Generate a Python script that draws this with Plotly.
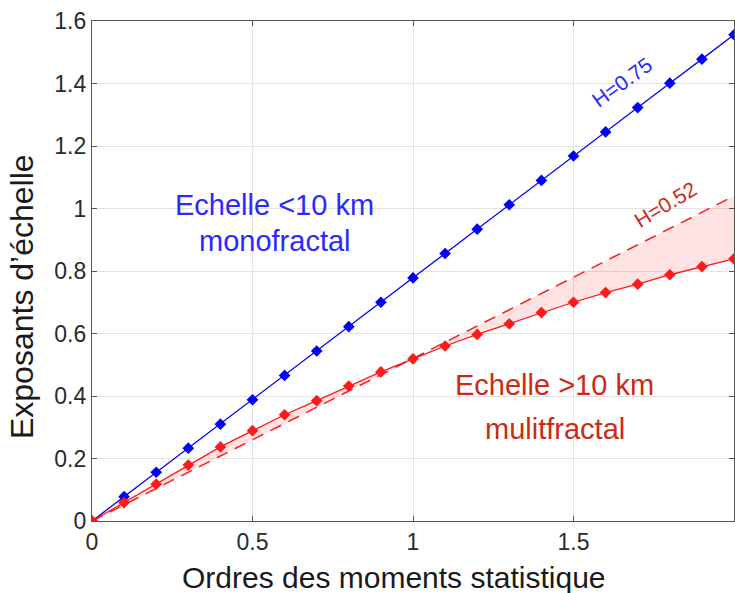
import plotly.graph_objects as go

# Moment orders
q = [0.0, 0.1, 0.2, 0.3, 0.4, 0.5, 0.6, 0.7, 0.8, 0.9, 1.0,
     1.1, 1.2, 1.3, 1.4, 1.5, 1.6, 1.7, 1.8, 1.9, 2.0]

# Scaling exponents, scales below 10 km (monofractal)
zeta_small = [0.0, 0.078, 0.156, 0.233, 0.310, 0.388, 0.466, 0.544, 0.622, 0.700, 0.778,
              0.856, 0.934, 1.012, 1.090, 1.168, 1.245, 1.323, 1.401, 1.478, 1.556]

# Scaling exponents, scales above 10 km (multifractal)
zeta_large = [0.0, 0.059, 0.118, 0.179, 0.237, 0.289, 0.340, 0.385, 0.432, 0.477, 0.519,
              0.560, 0.597, 0.631, 0.667, 0.700, 0.731, 0.758, 0.788, 0.814, 0.839]

# Monofractal reference slope for the large scales
H_ref = 0.52
ref_q = [0.0, 2.0]
ref_zeta = [H_ref * v for v in ref_q]

x_ticks = [0, 0.5, 1, 1.5, 2]
x_ticktext = ["0", "0.5", "1", "1.5", "2"]
y_ticks = [0, 0.2, 0.4, 0.6, 0.8, 1.0, 1.2, 1.4, 1.6]
y_ticktext = ["0", "0.2", "0.4", "0.6", "0.8", "1", "1.2", "1.4", "1.6"]

BLUE = "#0000ff"
RED = "#ff1a1a"

fig = go.Figure()

# Shaded gap between the multifractal curve and the linear reference
fig.add_trace(go.Scatter(
    x=q + ref_q[::-1], y=zeta_large + ref_zeta[::-1],
    fill="toself", fillcolor="rgba(255,60,60,0.15)",
    line=dict(width=0), mode="lines", hoverinfo="skip", showlegend=False))

fig.add_trace(go.Scatter(
    x=ref_q, y=ref_zeta, mode="lines",
    line=dict(color=RED, width=1.5, dash="12px,8px"), showlegend=False))

fig.add_trace(go.Scatter(
    x=q, y=zeta_small, mode="lines+markers",
    line=dict(color=BLUE, width=1.3),
    marker=dict(symbol="diamond", size=9, color=BLUE), showlegend=False))

fig.add_trace(go.Scatter(
    x=q, y=zeta_large, mode="lines+markers",
    line=dict(color=RED, width=1.3),
    marker=dict(symbol="diamond", size=9, color=RED), showlegend=False))

font_fam = "Liberation Sans, Arial, sans-serif"
ann_blue = "#2a2aff"
ann_red = "#cc2a14"

annotations = [
    dict(x=0.57, y=1.011, text="Echelle &lt;10 km", font=dict(size=29, color=ann_blue)),
    dict(x=0.57, y=0.895, text="monofractal", font=dict(size=29, color=ann_blue)),
    dict(x=1.442, y=0.435, text="Echelle &gt;10 km", font=dict(size=29, color=ann_red)),
    dict(x=1.442, y=0.294, text="mulitfractal", font=dict(size=29, color=ann_red)),
    dict(x=1.65, y=1.403, text="H=0.75", textangle=-36, font=dict(size=21, color=ann_blue)),
    dict(x=1.785, y=1.014, text="H=0.52", textangle=-31, font=dict(size=21, color=ann_red)),
]
for a in annotations:
    a.update(xref="x", yref="y")

# Axis titles
annotations += [
    dict(x=0.470, y=-0.112, xref="paper", yref="paper",
         text="Ordres des moments statistique", font=dict(size=30, color="#1a1a1a")),
    dict(x=-0.109, y=0.448, xref="paper", yref="paper", textangle=-90,
         text="Exposants d’échelle", font=dict(size=32, color="#1a1a1a")),
]
for a in annotations:
    a.update(showarrow=False, xanchor="center", yanchor="middle")

axis_common = dict(
    showline=True, linecolor="#555555", linewidth=1.2, mirror="ticks",
    ticks="inside", ticklen=5, tickcolor="#555555",
    showgrid=True, gridcolor="#e3e3e3", gridwidth=1, zeroline=False,
    tickfont=dict(size=23, color="#2a2a2a"),
)

fig.update_layout(
    width=735, height=593,
    margin=dict(l=92, r=1, t=21, b=72),
    paper_bgcolor="white", plot_bgcolor="white",
    font=dict(family=font_fam, color="#1a1a1a"),
    xaxis=dict(range=[0, 2], tickvals=x_ticks, ticktext=x_ticktext, **axis_common),
    yaxis=dict(range=[0, 1.6], tickvals=y_ticks, ticktext=y_ticktext, **axis_common),
    annotations=annotations,
    showlegend=False,
)

fig.write_html("out.html")
